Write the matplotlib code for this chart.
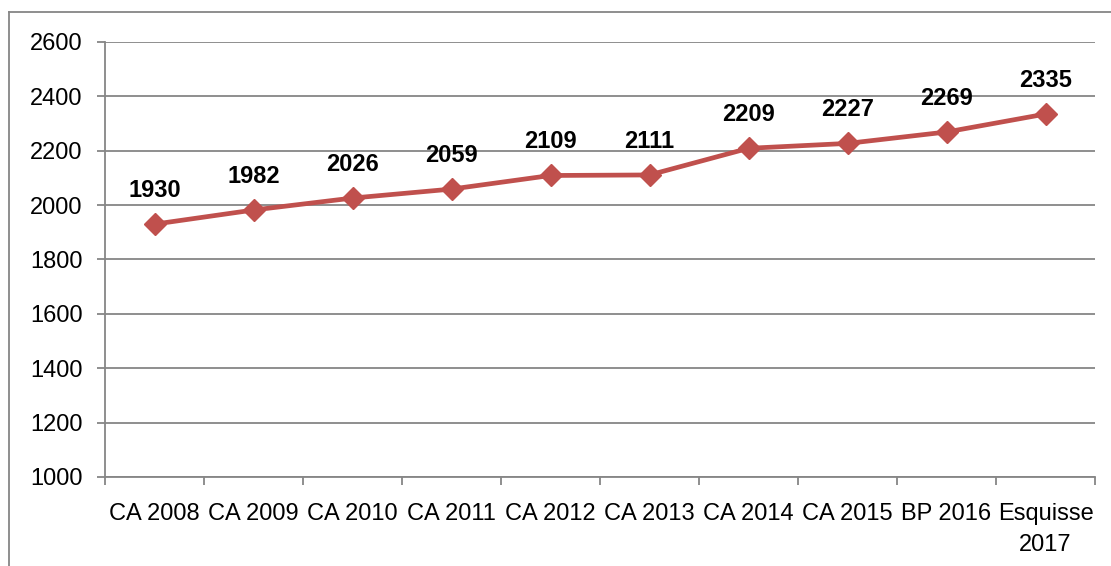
import numpy as np
import matplotlib.pyplot as plt
from matplotlib.lines import Line2D

# données
categories = ["CA 2008", "CA 2009", "CA 2010", "CA 2011", "CA 2012",
              "CA 2013", "CA 2014", "CA 2015", "BP 2016", "Esquisse\n2017"]
valeurs = [1930, 1982, 2026, 2059, 2109, 2111, 2209, 2227, 2269, 2335]
yticks = [1000, 1200, 1400, 1600, 1800, 2000, 2200, 2400, 2600]

plt.rcParams['font.family'] = ['Liberation Sans', 'DejaVu Sans']

fig = plt.figure(figsize=(11.11, 5.66), dpi=100)
ax = fig.add_axes([105/1111, 1-477/566, 990/1111, 435/566])

grey = '#868686'
x = np.arange(len(valeurs))
ax.plot(x, valeurs, color='#C0504D', lw=3.4, marker='D', ms=11,
        markerfacecolor='#C0504D', markeredgecolor='#C0504D', zorder=3)

# étiquettes de valeur
for xi, v in zip(x, valeurs):
    ax.annotate(str(v), (xi, v), xytext=(0, 16), textcoords='offset points',
                ha='center', va='bottom', fontsize=17, fontweight='bold')

ax.set_xlim(-0.5, len(valeurs) - 0.5)
ax.set_ylim(1000, 2600)
ax.set_yticks(yticks)
ax.set_yticklabels([str(t) for t in yticks], fontsize=17)
ax.grid(axis='y', color=grey, lw=1.3)
ax.set_axisbelow(True)

# catégories au centre, graduations entre les catégories
ax.set_xticks(x)
ax.set_xticklabels(categories, fontsize=17, linespacing=1.5)
ax.set_xticks(np.arange(-0.5, len(valeurs)), minor=True)
ax.tick_params(axis='x', which='major', length=0, pad=19)
ax.tick_params(axis='x', which='minor', length=6, color=grey, width=1.3)
ax.tick_params(axis='y', length=6, color=grey, width=1.3, pad=10)

for s in ['top', 'right']:
    ax.spines[s].set_visible(False)
for s in ['left', 'bottom']:
    ax.spines[s].set_color(grey)
    ax.spines[s].set_linewidth(1.3)

# cadre du graphique
fig.add_artist(Line2D([9/1111, 9/1111], [0, 1-12/566], transform=fig.transFigure, color=grey, lw=1.3))
fig.add_artist(Line2D([9/1111, 1], [1-12/566, 1-12/566], transform=fig.transFigure, color=grey, lw=1.3))

fig.savefig('out.png', dpi=100)
